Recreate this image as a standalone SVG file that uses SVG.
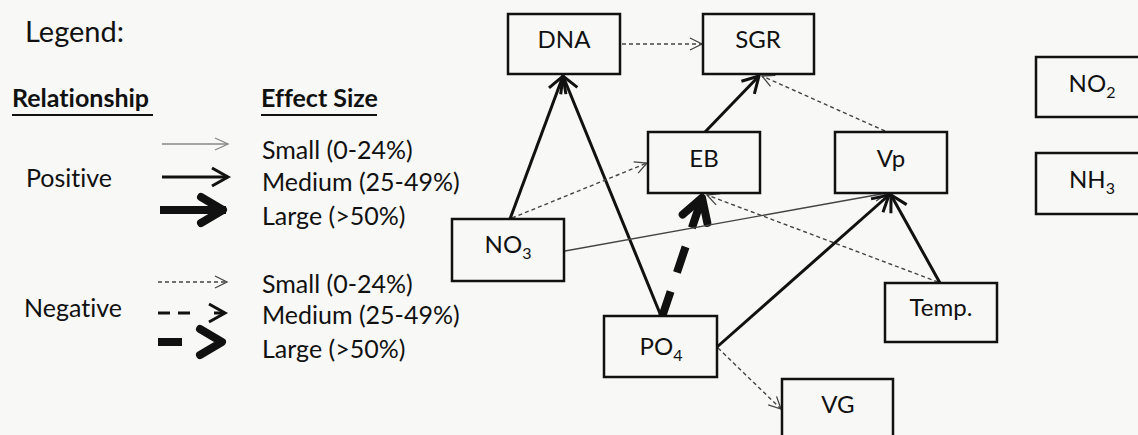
<svg xmlns="http://www.w3.org/2000/svg" width="1138" height="435" viewBox="0 0 1138 435">
<style>
text{font-family:Lato,"Open Sans","Liberation Sans",sans-serif;fill:#111;font-variant-ligatures:none;font-feature-settings:"liga" 0}
.lg{font-size:25px}
.hd{font-size:25px;font-weight:bold}
.ul{stroke:#111;stroke-width:2}
.nl{font-size:24px;text-anchor:middle}
.sub{font-size:16px}
.box{fill:#f8f8f6;stroke:#111;stroke-width:2.5}
.med{fill:none;stroke:#111;stroke-width:3}
.lrg{fill:none;stroke:#111;stroke-width:8}
.sp{fill:none;stroke:#444;stroke-width:1.3}
.sn{fill:none;stroke:#444;stroke-width:1.4;stroke-dasharray:4 3}
.mn{fill:none;stroke:#111;stroke-width:3;stroke-dasharray:12 8 12 24 11}
.ln{fill:none;stroke:#111;stroke-width:8;stroke-dasharray:27 20}
</style>
<defs>
<marker id="aS" markerUnits="userSpaceOnUse" markerWidth="30" markerHeight="30" viewBox="-20 -15 30 30" refX="0" refY="0" orient="auto" overflow="visible">
<path d="M-12,-6 L0,0 L-12,6" fill="none" stroke="#444" stroke-width="1.3"/>
</marker>
<marker id="aSg" markerUnits="userSpaceOnUse" markerWidth="30" markerHeight="30" viewBox="-20 -15 30 30" refX="0" refY="0" orient="auto" overflow="visible">
<path d="M-13,-6 L0,0 L-13,6" fill="none" stroke="#888" stroke-width="1.3"/>
</marker>
<marker id="aM" markerUnits="userSpaceOnUse" markerWidth="40" markerHeight="40" viewBox="-20 -20 40 40" refX="0" refY="0" orient="auto" overflow="visible">
<path d="M-16,-9 L0,0 L-16,9" fill="none" stroke="#111" stroke-width="3"/>
</marker>
<marker id="aL" markerUnits="userSpaceOnUse" markerWidth="60" markerHeight="60" viewBox="-30 -30 60 60" refX="0" refY="0" orient="auto" overflow="visible">
<path d="M-25,-13 L-3,0 L-25,13" fill="none" stroke="#111" stroke-width="8" stroke-linejoin="round" stroke-linecap="round"/>
</marker>
</defs>
<rect width="1138" height="435" fill="#f8f8f6"/>

<g id="legend">
<text x="25" y="42" font-size="29">Legend:</text>
<text class="hd" x="12" y="107">Relationship</text>
<line class="ul" x1="12" y1="115" x2="153" y2="115"/>
<text class="hd" x="261" y="107">Effect Size</text>
<line class="ul" x1="261" y1="115" x2="377" y2="115"/>
<text class="lg" x="26" y="187">Positive</text>
<text class="lg" x="24" y="317">Negative</text>
<text class="lg" x="262" y="159">Small (0-24%)</text>
<text class="lg" x="262" y="191">Medium (25-49%)</text>
<text class="lg" x="262" y="225">Large (&gt;50%)</text>
<text class="lg" x="262" y="293">Small (0-24%)</text>
<text class="lg" x="262" y="324">Medium (25-49%)</text>
<text class="lg" x="262" y="358">Large (&gt;50%)</text>
<line x1="162" y1="144" x2="228" y2="144" stroke="#888" stroke-width="1.3" marker-end="url(#aSg)"/>
<line class="med" x1="162" y1="177" x2="228" y2="177" marker-end="url(#aM)"/>
<line class="lrg" x1="160" y1="210" x2="226" y2="210" marker-end="url(#aL)"/>
<line class="sn" x1="158" y1="282" x2="227" y2="282" marker-end="url(#aS)"/>
<line class="mn" x1="158" y1="313" x2="225" y2="313" marker-end="url(#aM)"/>
<line class="lrg" x1="158" y1="342" x2="225" y2="342" stroke-dasharray="24 100" marker-end="url(#aL)"/>
</g>

<g id="connectors">
<line class="sn" x1="622" y1="44" x2="702" y2="44" marker-end="url(#aS)"/>
<line class="med" x1="510" y1="219" x2="563" y2="76" marker-end="url(#aM)"/>
<line class="med" x1="661" y1="316" x2="563" y2="76" marker-end="url(#aM)"/>
<line class="med" x1="705" y1="132" x2="759" y2="76" marker-end="url(#aM)"/>
<line class="sn" x1="885" y1="131" x2="762" y2="76" marker-end="url(#aS)"/>
<line class="sn" x1="512" y1="218" x2="647" y2="163" marker-end="url(#aS)"/>
<line class="ln" x1="662" y1="317" x2="703" y2="195" marker-end="url(#aL)"/>
<line class="sn" x1="938" y1="282" x2="707" y2="195" marker-end="url(#aS)"/>
<line class="sp" x1="565" y1="251" x2="887" y2="193" marker-end="url(#aS)"/>
<line class="med" x1="717" y1="347" x2="889" y2="195" marker-end="url(#aM)"/>
<line class="med" x1="940" y1="283" x2="891" y2="195" marker-end="url(#aM)"/>
<line class="sn" x1="718" y1="348" x2="781" y2="409" marker-end="url(#aS)"/>
</g>

<g id="node-dna"><rect class="box" x="508" y="14" width="112" height="60"/><text class="nl" x="564" y="48">DNA</text></g>
<g id="node-sgr"><rect class="box" x="703" y="14" width="111" height="60"/><text class="nl" x="758" y="48">SGR</text></g>
<g id="node-eb"><rect class="box" x="648" y="132" width="112" height="61"/><text class="nl" x="704" y="167">EB</text></g>
<g id="node-vp"><rect class="box" x="835" y="132" width="112" height="61"/><text class="nl" x="891" y="167">Vp</text></g>
<g id="node-no3"><rect class="box" x="452" y="219" width="112" height="62"/><text class="nl" x="508" y="253">NO<tspan class="sub" dy="6">3</tspan></text></g>
<g id="node-po4"><rect class="box" x="604" y="316" width="113" height="61"/><text class="nl" x="661" y="355">PO<tspan class="sub" dy="6">4</tspan></text></g>
<g id="node-temp"><rect class="box" x="885" y="283" width="112" height="59"/><text class="nl" x="941" y="316">Temp.</text></g>
<g id="node-vg"><rect class="box" x="782" y="379" width="111" height="62"/><text class="nl" x="838" y="413">VG</text></g>
<g id="node-no2"><rect class="box" x="1036" y="57" width="112" height="60"/><text class="nl" x="1092" y="92">NO<tspan class="sub" dy="6">2</tspan></text></g>
<g id="node-nh3"><rect class="box" x="1036" y="153" width="112" height="61"/><text class="nl" x="1092" y="188">NH<tspan class="sub" dy="6">3</tspan></text></g>
</svg>
